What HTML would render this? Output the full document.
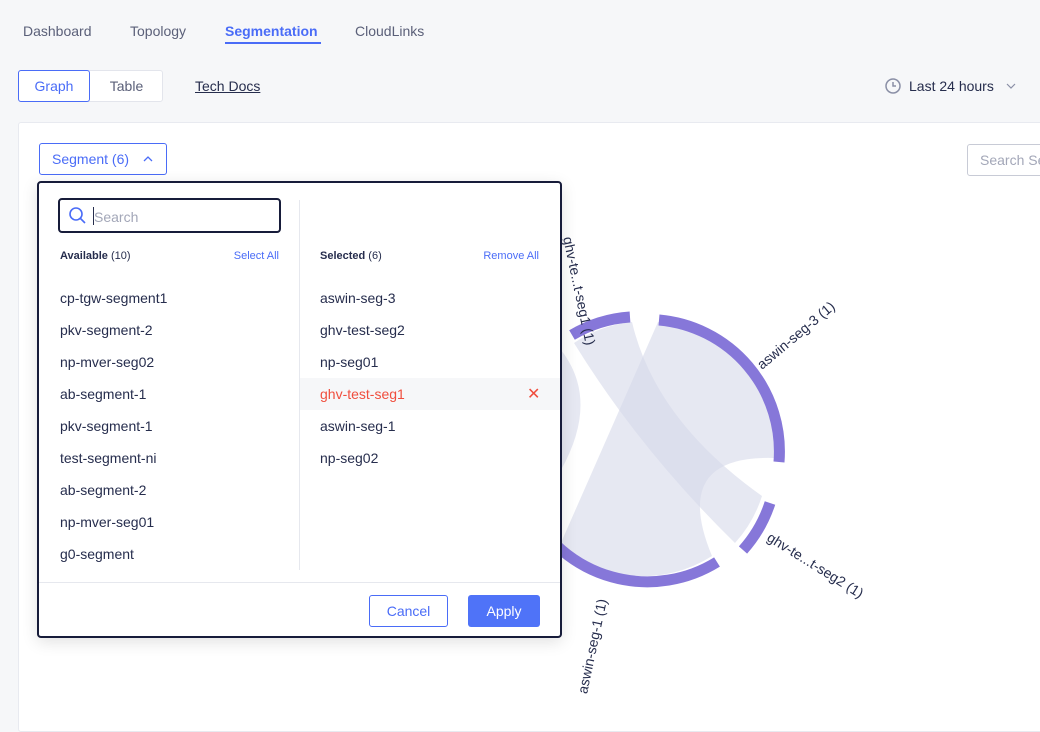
<!DOCTYPE html>
<html><head><meta charset="utf-8"><style>
*{box-sizing:border-box;margin:0;padding:0}
body{width:1040px;height:723px;overflow:hidden;background:#f6f7f9;font-family:"Liberation Sans",sans-serif;color:#262d4d;position:relative}
.a{position:absolute;white-space:nowrap}
.tab{font-size:14px;color:#5b6079;top:23px}
</style></head><body>
<div class="a tab" style="left:23px">Dashboard</div>
<div class="a tab" style="left:130px">Topology</div>
<div class="a tab" style="left:225px;color:#4a6cf7;font-weight:bold">Segmentation</div>
<div class="a" style="left:225px;top:42px;width:96px;height:2px;background:#4a6cf7"></div>
<div class="a tab" style="left:355px">CloudLinks</div>

<div class="a" style="left:18px;top:70px;width:145px;height:32px;border:1px solid #e3e5ec;border-radius:3px;background:#fff"></div>
<div class="a" style="left:18px;top:70px;width:72px;height:32px;border:1px solid #4a6cf7;border-radius:3px;color:#4a6cf7;font-size:14px;text-align:center;line-height:30px">Graph</div>
<div class="a" style="left:90px;top:70px;width:73px;height:32px;font-size:14px;color:#5b6079;text-align:center;line-height:32px">Table</div>
<div class="a" style="left:195px;top:78px;font-size:14px;text-decoration:underline;color:#262d4d">Tech Docs</div>
<svg class="a" style="left:884px;top:77px" width="18" height="18"><circle cx="9" cy="9" r="7" fill="none" stroke="#8a8fa6" stroke-width="1.5"/><path d="M9 5V9H12" fill="none" stroke="#8a8fa6" stroke-width="1.5"/></svg>
<div class="a" style="left:909px;top:78px;font-size:14px;color:#262d4d">Last 24 hours</div>
<svg class="a" style="left:1006px;top:82px" width="10" height="8"><path d="M1 2L5 6L9 2" fill="none" stroke="#8a8fa6" stroke-width="1.2"/></svg>

<div class="a" style="left:18px;top:122px;width:1030px;height:610px;background:#fff;border:1px solid #e8eaf0;border-radius:3px"></div>
<div class="a" style="left:39px;top:143px;width:128px;height:32px;border:1px solid #4a6cf7;border-radius:3px;color:#4a6cf7;font-size:14px;line-height:30px;padding-left:12px">Segment (6)</div>
<svg class="a" style="left:143px;top:155px" width="10" height="8"><path d="M1 6L5 2L9 6" fill="none" stroke="#4a6cf7" stroke-width="1.3"/></svg>
<div class="a" style="left:967px;top:144px;width:100px;height:32px;border:1px solid #c8cbd6;border-radius:3px;color:#a3a7b8;font-size:14px;line-height:30px;padding-left:12px">Search Se</div>

<svg class="a" style="left:0;top:0" width="1040" height="723">
<g fill="#d6d9ea">
<path opacity="0.6" d="M658 322 A127 127 0 0 1 774 458 Q670 455 712 556 A127 127 0 0 1 560 545 Q615 420 658 322Z"/>
<path opacity="0.6" d="M632 322 A127 127 0 0 0 574 343 Q640 450 735 543 A127 127 0 0 0 762 496 Q655 420 632 322Z"/>
<path opacity="0.6" d="M561 350 Q600 400 561 470Z"/>
</g>
<g fill="none" stroke="#8677d9" stroke-width="11">
<path d="M659 320 A132 132 0 0 1 779 462"/>
<path d="M770 503 A132 132 0 0 1 743 550"/>
<path d="M717 562 A132 132 0 0 1 530 510"/>
<path d="M630 317 A132 132 0 0 0 572 335"/>
</g>
<g font-size="14" fill="#262d4d" font-family="Liberation Sans,sans-serif">
<text transform="translate(762,370) rotate(-40)">aswin-seg-3 (1)</text>
<text transform="translate(766,540) rotate(32)">ghv-te...t-seg2 (1)</text>
<text text-anchor="end" transform="translate(607,600) rotate(-78)">aswin-seg-1 (1)</text>
<text text-anchor="end" transform="translate(586,346) rotate(78)">ghv-te...t-seg1 (1)</text>
</g>
</svg>

<div class="a" style="left:37px;top:181px;width:525px;height:457px;background:#fff;border:2px solid #171c3a;border-radius:4px;box-shadow:0 4px 16px rgba(0,0,0,.12)"></div>
<div class="a" style="left:58px;top:198px;width:223px;height:35px;border:2px solid #171c3a;border-radius:4px"></div>
<svg class="a" style="left:68px;top:206px" width="20" height="20"><circle cx="8" cy="8" r="6" fill="none" stroke="#4a6cf7" stroke-width="1.6"/><path d="M12.5 12.5L17 17" stroke="#4a6cf7" stroke-width="1.6"/></svg>
<div class="a" style="left:93px;top:207px;width:1px;height:18px;background:#262d4d"></div>
<div class="a" style="left:94px;top:209px;font-size:14px;color:#a3a7b8">Search</div>
<div class="a" style="left:299px;top:200px;width:1px;height:370px;background:#e6e8ee"></div>
<div class="a" style="left:60px;top:250px;font-size:11px"><b>Available</b> (10)</div>
<div class="a" style="left:226px;top:250px;width:53px;text-align:right;font-size:11px;color:#4a6cf7">Select All</div>
<div class="a" style="left:320px;top:250px;font-size:11px"><b>Selected</b> (6)</div>
<div class="a" style="left:470px;top:250px;width:69px;text-align:right;font-size:11px;color:#4a6cf7">Remove All</div>
<div class="a" style="left:300px;top:378px;width:260px;height:32px;background:#f6f7f9"></div>
<div class="a" style="left:60px;top:282px;font-size:14px;line-height:32px">cp-tgw-segment1<br>pkv-segment-2<br>np-mver-seg02<br>ab-segment-1<br>pkv-segment-1<br>test-segment-ni<br>ab-segment-2<br>np-mver-seg01<br>g0-segment</div>
<div class="a" style="left:320px;top:282px;font-size:14px;line-height:32px">aswin-seg-3<br>ghv-test-seg2<br>np-seg01<br><span style="color:#f04e3e">ghv-test-seg1</span><br>aswin-seg-1<br>np-seg02</div>
<div class="a" style="left:527px;top:384px;font-size:16px;color:#f04e3e">✕</div>
<div class="a" style="left:39px;top:582px;width:521px;height:1px;background:#e6e8ee"></div>
<div class="a" style="left:369px;top:595px;width:79px;height:32px;border:1px solid #4a6cf7;border-radius:3px;color:#4a6cf7;font-size:14px;text-align:center;line-height:30px">Cancel</div>
<div class="a" style="left:468px;top:595px;width:72px;height:32px;background:#4f73f8;border-radius:3px;color:#fff;font-size:14px;text-align:center;line-height:32px">Apply</div>
</body></html>
